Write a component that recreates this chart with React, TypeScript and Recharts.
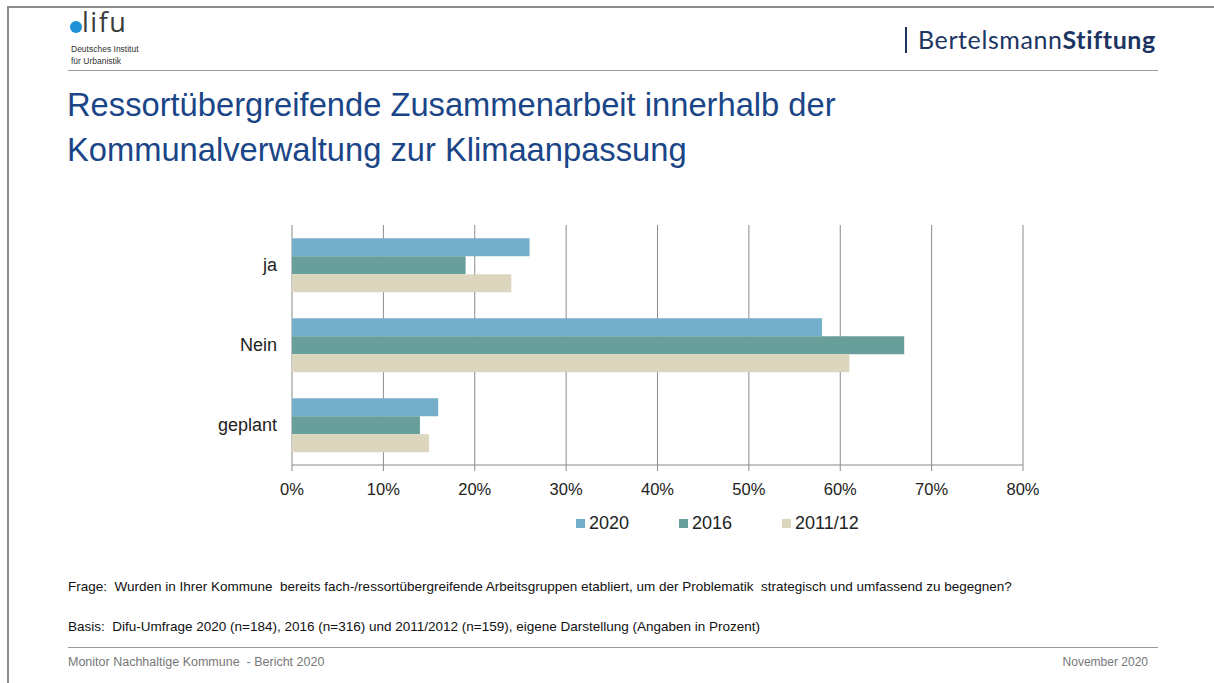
import React from 'react';
import { BarChart, Bar, XAxis, YAxis, CartesianGrid } from 'recharts';

// Antworten (Kategorien) und Anteile in Prozent je Umfragejahr
const categories = ['ja', 'Nein', 'geplant'];
const values2020 = [26, 58, 16];
const values2016 = [19, 67, 14];
const values2011 = [24, 61, 15];
const xTicks = [0, 10, 20, 30, 40, 50, 60, 70, 80];

const series = [
  { key: 'y2020', name: '2020', color: '#75aecb', values: values2020 },
  { key: 'y2016', name: '2016', color: '#689f9b', values: values2016 },
  { key: 'y2011', name: '2011/12', color: '#ddd6bf', values: values2011 },
];

const data = categories.map((cat, i) => {
  const row: any = { cat };
  series.forEach(s => { row[s.key] = s.values[i]; });
  return row;
});

const FONT = '"Liberation Sans", Arial, sans-serif';
const GRID = '#8a8a8a';

const App: React.FC = () => {
  return (
    <div style={{ position: 'absolute', left: 0, top: 0, width: 1214, height: 683, background: '#fff', overflow: 'hidden', fontFamily: FONT }}>
      {/* slide frame */}
      <div style={{ position: 'absolute', left: 7, top: 6, width: 1240, height: 700, borderLeft: '2px solid #8c8c8c', borderTop: '2px solid #8c8c8c' }} />

      {/* difu logo */}
      <div style={{ position: 'absolute', left: 70, top: 21, width: 12, height: 12, borderRadius: '50%', background: '#1e90d6' }} />
      <div style={{ position: 'absolute', left: 82, top: 6, fontSize: 27, lineHeight: '32px', color: '#3a3a3a', fontFamily: '"Open Sans", sans-serif', letterSpacing: 1.5 }}>lifu</div>
      <div style={{ position: 'absolute', left: 71, top: 44, fontSize: 8.5, color: '#333', lineHeight: '11px', fontFamily: '"Liberation Sans", sans-serif', whiteSpace: 'nowrap' }}>
        Deutsches Institut
      </div>
      <div style={{ position: 'absolute', left: 71, top: 56, fontSize: 8.5, color: '#333', lineHeight: '11px', fontFamily: '"Liberation Sans", sans-serif', whiteSpace: 'nowrap' }}>
        für Urbanistik
      </div>

      {/* Bertelsmann */}
      <div style={{ position: 'absolute', left: 905, top: 27, width: 2, height: 26, background: '#1c3563' }} />
      <div style={{ position: 'absolute', left: 918, top: 24, fontSize: 25, color: '#1c3563', fontFamily: 'Lato, sans-serif', whiteSpace: 'nowrap', letterSpacing: 0.6 }}>
        Bertelsmann<b>Stiftung</b>
      </div>

      {/* header rule */}
      <div style={{ position: 'absolute', left: 68, top: 70, width: 1090, height: 1, background: '#9a9a9a' }} />

      {/* title */}
      <div style={{ position: 'absolute', left: 67, top: 82, fontSize: 32.7, lineHeight: '45px', color: '#1a4587', whiteSpace: 'nowrap' }}>
        Ressortübergreifende Zusammenarbeit innerhalb der<br />Kommunalverwaltung zur Klimaanpassung
      </div>

      {/* chart */}
      <div style={{ position: 'absolute', left: 0, top: 0 }}>
        <BarChart
          width={1214}
          height={683}
          data={data}
          layout="vertical"
          margin={{ top: 225, left: 212, right: 191, bottom: 188 }}
          barCategoryGap="16.7%"
          barGap={0}
        >
          <CartesianGrid horizontal={false} vertical={true} stroke={GRID} strokeWidth={1} />
          <XAxis
            type="number"
            domain={[0, 80]}
            ticks={xTicks}
            tickFormatter={(v: number) => `${v}%`}
            axisLine={{ stroke: GRID }}
            tickLine={{ stroke: GRID }}
            tickSize={6}
            tickMargin={12}
            height={30}
            interval={0}
            tick={{ fill: '#222', fontSize: 16.5, fontFamily: FONT }}
          />
          <YAxis
            yAxisId="bounds"
            type="number"
            domain={[0, 3]}
            ticks={[0, 1, 2, 3]}
            width={0}
            tick={false}
            tickSize={5}
            tickLine={{ stroke: GRID }}
            axisLine={{ stroke: GRID }}
            allowDataOverflow
          />
          <YAxis
            type="category"
            dataKey="cat"
            width={80}
            axisLine={false}
            tickLine={false}
            tickSize={0}
            tickMargin={15}
            tick={{ fill: '#222', fontSize: 18, fontFamily: FONT }}
          />
          {series.map(s => (
            <Bar key={s.key} dataKey={s.key} name={s.name} fill={s.color} isAnimationActive={false} />
          ))}
        </BarChart>
      </div>

      {/* legend */}
      <div style={{ position: 'absolute', left: 576, top: 512, display: 'flex', fontSize: 18, color: '#222', lineHeight: '22px' }}>
        {series.map(s => (
          <div key={s.key} style={{ display: 'flex', alignItems: 'center', width: 103 }}>
            <div style={{ width: 9, height: 9, background: s.color, marginRight: 4 }} />
            <span>{s.name}</span>
          </div>
        ))}
      </div>

      {/* notes */}
      <div style={{ position: 'absolute', left: 68, top: 579, fontSize: 13.5, color: '#111', whiteSpace: 'nowrap' }}>
        Frage:&nbsp; Wurden in Ihrer Kommune&nbsp; bereits fach-/ressortübergreifende Arbeitsgruppen etabliert, um der Problematik&nbsp; strategisch und umfassend zu begegnen?
      </div>
      <div style={{ position: 'absolute', left: 68, top: 619, fontSize: 13.5, color: '#111', whiteSpace: 'nowrap' }}>
        Basis:&nbsp; Difu-Umfrage 2020 (n=184), 2016 (n=316) und 2011/2012 (n=159), eigene Darstellung (Angaben in Prozent)
      </div>

      {/* footer */}
      <div style={{ position: 'absolute', left: 68, top: 647, width: 1090, height: 1, background: '#9a9a9a' }} />
      <div style={{ position: 'absolute', left: 68, top: 655, fontSize: 12.5, color: '#777', whiteSpace: 'nowrap' }}>
        Monitor Nachhaltige Kommune&nbsp; - Bericht 2020
      </div>
      <div style={{ position: 'absolute', right: 1214 - 1148, top: 655, fontSize: 12, color: '#777', whiteSpace: 'nowrap' }}>
        November 2020
      </div>
    </div>
  );
};

export default App;
